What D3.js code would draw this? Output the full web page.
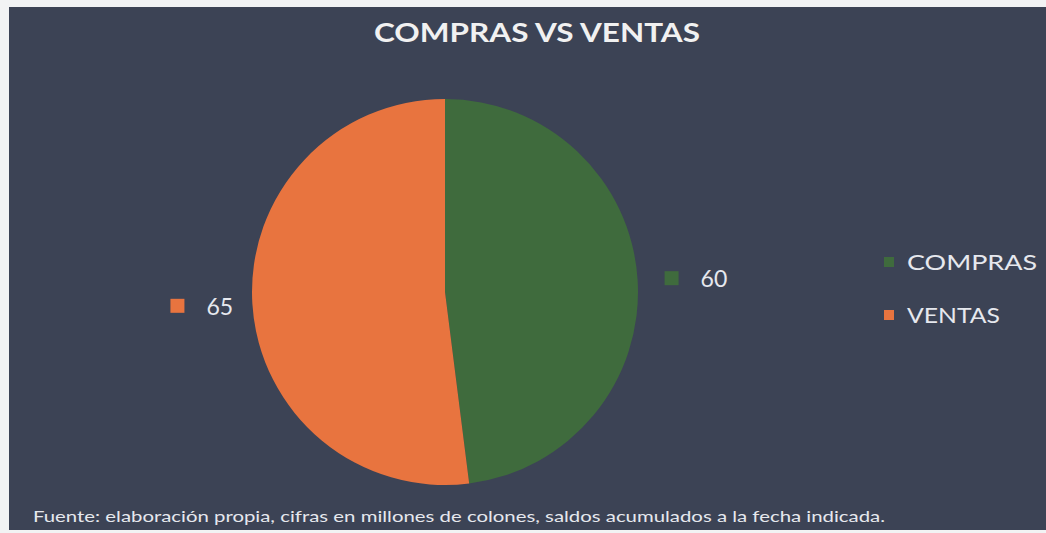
<!DOCTYPE html>
<html>
<head>
<meta charset="utf-8">
<script src="https://cdn.jsdelivr.net/npm/d3@7"></script>
<style>
  html, body { margin: 0; padding: 0; background: #f2f3f4; }
  svg { display: block; }
</style>
</head>
<body>
<div id="chart"></div>
<script>
// Chart data
const categories = ["COMPRAS", "VENTAS"];
const values = [60, 65];
const sliceColors = ["#3f6b3d", "#e8743f"];
const titleText = "COMPRAS VS VENTAS";
const noteText = "Fuente: elaboración propia, cifras en millones de colones, saldos acumulados a la fecha indicada.";

const width = 1046;
const height = 533;
const fontFamily = "'Century Gothic', 'Lato', 'DejaVu Sans', sans-serif";

const svg = d3.select("#chart").append("svg")
    .attr("width", width)
    .attr("height", height);

// Scanned page edge + dark chart area
svg.append("rect")
    .attr("x", 0).attr("y", 0)
    .attr("width", width).attr("height", height)
    .attr("fill", "#f2f3f4");

svg.append("rect")
    .attr("x", 9).attr("y", 7)
    .attr("width", width - 9).attr("height", 523)
    .attr("fill", "#3c4355");

// Title
svg.append("text")
    .attr("x", 537)
    .attr("y", 42)
    .attr("text-anchor", "middle")
    .attr("fill", "#f1f1f1")
    .attr("font-family", fontFamily)
    .attr("font-weight", "bold")
    .attr("font-size", 26)
    .attr("textLength", 326)
    .attr("lengthAdjust", "spacingAndGlyphs")
    .text(titleText);

// Pie
const cx = 445, cy = 292, radius = 193;
const pie = d3.pie().sort(null).value(d => d.value);
const arc = d3.arc().innerRadius(0).outerRadius(radius);
const data = pie(categories.map((c, i) => ({ name: c, value: values[i], color: sliceColors[i] })));

const g = svg.append("g").attr("transform", `translate(${cx},${cy})`);

g.selectAll("path")
    .data(data)
    .join("path")
    .attr("d", arc)
    .attr("fill", d => d.data.color);

// Data labels outside the slices
const labelR = 220;
const labels = g.selectAll("g.lbl")
    .data(data)
    .join("g")
    .attr("class", "lbl")
    .attr("transform", d => {
        const a = (d.startAngle + d.endAngle) / 2;
        return `translate(${labelR * Math.sin(a)},${-labelR * Math.cos(a)})`;
    });

labels.each(function (d) {
    const a = (d.startAngle + d.endAngle) / 2;
    const right = Math.sin(a) >= 0;
    const sel = d3.select(this);
    // marker then value, box begins (right side) or ends (left side) at the anchor
    const x0 = right ? 0 : -55;
    sel.append("rect")
        .attr("x", x0)
        .attr("y", -7)
        .attr("width", 14)
        .attr("height", 14)
        .attr("fill", d.data.color);
    sel.append("text")
        .attr("x", x0 + 36)
        .attr("y", 9)
        .attr("fill", "#e6e8ee")
        .attr("font-family", fontFamily)
        .attr("font-size", 23)
        .text(d.data.value);
});

// Legend
const legend = svg.append("g").attr("transform", "translate(884,262)");
const items = legend.selectAll("g")
    .data(data)
    .join("g")
    .attr("transform", (d, i) => `translate(0,${i * 53})`);

items.append("rect")
    .attr("x", 0).attr("y", -5)
    .attr("width", 10).attr("height", 10)
    .attr("fill", d => d.data.color);

items.append("text")
    .attr("x", 23)
    .attr("y", 8)
    .attr("fill", "#e6e8ee")
    .attr("font-family", fontFamily)
    .attr("font-size", 21)
    .attr("textLength", (d, i) => i === 0 ? 130 : 93)
    .attr("lengthAdjust", "spacingAndGlyphs")
    .text(d => d.data.name);

// Source note
svg.append("text")
    .attr("x", 33)
    .attr("y", 522)
    .attr("fill", "#e6e8ee")
    .attr("font-family", fontFamily)
    .attr("font-size", 15)
    .attr("textLength", 852)
    .attr("lengthAdjust", "spacingAndGlyphs")
    .text(noteText);
</script>
</body>
</html>
